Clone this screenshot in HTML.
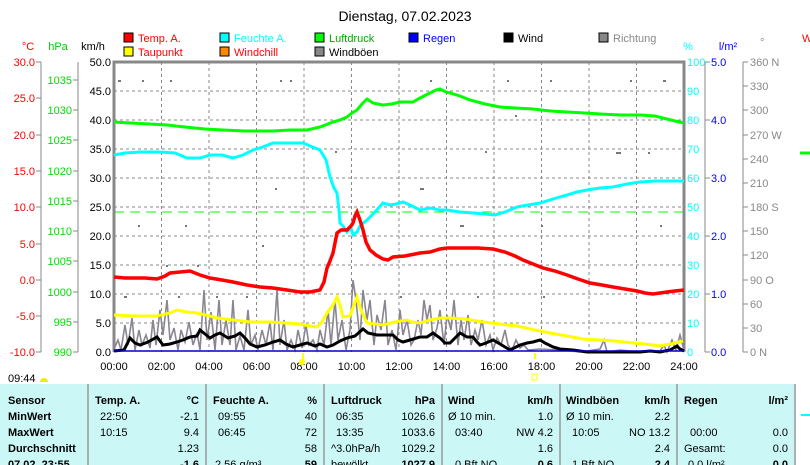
<!DOCTYPE html>
<html><head><meta charset="utf-8"><style>
body{margin:0;width:810px;height:465px;overflow:hidden;background:#fff;font-family:"Liberation Sans",sans-serif}
svg{position:absolute;left:0;top:0}
text{font-family:"Liberation Sans",sans-serif;font-size:11px}
</style></head><body>
<svg width="810" height="465" viewBox="0 0 810 465">
<text x="405" y="21" text-anchor="middle" font-size="14" style="font-size:14px">Dienstag, 07.02.2023</text>
<g font-size="11">
<rect x="124" y="33" width="9" height="9" fill="#f00" stroke="#000"/><text x="138" y="42" fill="#f00">Temp. A.</text>
<rect x="124" y="47" width="9" height="9" fill="#ff0" stroke="#000"/><text x="138" y="56" fill="#f00">Taupunkt</text>
<rect x="220" y="33" width="9" height="9" fill="#0ff" stroke="#000"/><text x="234" y="42" fill="#0ff">Feuchte A.</text>
<rect x="220" y="47" width="9" height="9" fill="#f80" stroke="#000"/><text x="234" y="56" fill="#f00">Windchill</text>
<rect x="315" y="33" width="9" height="9" fill="#0f0" stroke="#000"/><text x="329" y="42" fill="#0a0">Luftdruck</text>
<rect x="315" y="47" width="9" height="9" fill="#888" stroke="#000"/><text x="329" y="56">Windböen</text>
<rect x="409" y="33" width="9" height="9" fill="#00f" stroke="#000"/><text x="423" y="42" fill="#00f">Regen</text>
<rect x="504" y="33" width="9" height="9" fill="#000" stroke="#000"/><text x="518" y="42">Wind</text>
<rect x="599" y="33" width="9" height="9" fill="#888" stroke="#000"/><text x="613" y="42" fill="#888">Richtung</text>
<text x="802" y="42" fill="#f00">W</text>
</g>
<text x="28" y="50" text-anchor="middle" fill="#f00">°C</text>
<text x="58" y="50" text-anchor="middle" fill="#0c0">hPa</text>
<text x="93" y="50" text-anchor="middle">km/h</text>
<text x="688" y="50" text-anchor="middle" fill="#0ff">%</text>
<text x="728" y="50" text-anchor="middle" fill="#00f">l/m²</text>
<text x="760" y="46" fill="#888">°</text>
<g stroke="#888" stroke-dasharray="3,3" stroke-width="1">
<line x1="114" y1="91" x2="684" y2="91"/><line x1="114" y1="120" x2="684" y2="120"/><line x1="114" y1="149" x2="684" y2="149"/><line x1="114" y1="178" x2="684" y2="178"/><line x1="114" y1="207" x2="684" y2="207"/><line x1="114" y1="236" x2="684" y2="236"/><line x1="114" y1="265" x2="684" y2="265"/><line x1="114" y1="294" x2="684" y2="294"/><line x1="114" y1="323" x2="684" y2="323"/>
<line x1="161.5" y1="62" x2="161.5" y2="352"/><line x1="209" y1="62" x2="209" y2="352"/><line x1="256.5" y1="62" x2="256.5" y2="352"/><line x1="304" y1="62" x2="304" y2="352"/><line x1="351.5" y1="62" x2="351.5" y2="352"/><line x1="399" y1="62" x2="399" y2="352"/><line x1="446.5" y1="62" x2="446.5" y2="352"/><line x1="494" y1="62" x2="494" y2="352"/><line x1="541.5" y1="62" x2="541.5" y2="352"/><line x1="589" y1="62" x2="589" y2="352"/><line x1="636.5" y1="62" x2="636.5" y2="352"/>
</g>
<line x1="114" y1="212" x2="684" y2="212" stroke="#0f0" stroke-dasharray="10,6"/>
<path d="M114,352 V62 H684 V352" fill="none" stroke="#888" stroke-width="3"/>
<g stroke="#888" stroke-width="1" fill="none">
<line x1="41" y1="62" x2="41" y2="352"/><line x1="78" y1="62" x2="78" y2="352"/>
<line x1="705" y1="62" x2="705" y2="352"/><line x1="743" y1="62" x2="743" y2="352"/>
<path d="M36,62H41M36,98H41M36,135H41M36,171H41M36,207H41M36,244H41M36,280H41M36,316H41M36,352H41"/>
<path d="M73,80H78M73,110H78M73,140H78M73,171H78M73,201H78M73,231H78M73,261H78M73,292H78M73,322H78M73,352H78"/>
<path d="M705,62H710M705,120H710M705,178H710M705,236H710M705,294H710M705,352H710"/>
<path d="M743,62H748M743,86H748M743,110H748M743,135H748M743,159H748M743,183H748M743,207H748M743,231H748M743,255H748M743,280H748M743,304H748M743,328H748M743,352H748"/>
</g>
<g text-anchor="end" fill="#f00"><text x="35" y="66">30.0</text><text x="35" y="102">25.0</text><text x="35" y="139">20.0</text><text x="35" y="175">15.0</text><text x="35" y="211">10.0</text><text x="35" y="248">5.0</text><text x="35" y="284">0.0</text><text x="35" y="320">-5.0</text><text x="35" y="356">-10.0</text></g>
<g text-anchor="end" fill="#0d0"><text x="72" y="84">1035</text><text x="72" y="114">1030</text><text x="72" y="144">1025</text><text x="72" y="175">1020</text><text x="72" y="205">1015</text><text x="72" y="235">1010</text><text x="72" y="265">1005</text><text x="72" y="296">1000</text><text x="72" y="326">995</text><text x="72" y="356">990</text></g>
<g text-anchor="end"><text x="111" y="66">50.0</text><text x="111" y="95">45.0</text><text x="111" y="124">40.0</text><text x="111" y="153">35.0</text><text x="111" y="182">30.0</text><text x="111" y="211">25.0</text><text x="111" y="240">20.0</text><text x="111" y="269">15.0</text><text x="111" y="298">10.0</text><text x="111" y="327">5.0</text><text x="111" y="356">0.0</text></g>
<g fill="#0ff"><text x="687" y="66">100</text><text x="687" y="95">90</text><text x="687" y="124">80</text><text x="687" y="153">70</text><text x="687" y="182">60</text><text x="687" y="211">50</text><text x="687" y="240">40</text><text x="687" y="269">30</text><text x="687" y="298">20</text><text x="687" y="327">10</text><text x="687" y="356">0</text></g>
<g fill="#00f"><text x="711" y="66">5.0</text><text x="711" y="124">4.0</text><text x="711" y="182">3.0</text><text x="711" y="240">2.0</text><text x="711" y="298">1.0</text><text x="711" y="356">0.0</text></g>
<g fill="#888"><text x="750" y="66">360 N</text><text x="750" y="90">330</text><text x="750" y="114">300</text><text x="750" y="139">270 W</text><text x="750" y="163">240</text><text x="750" y="187">210</text><text x="750" y="211">180 S</text><text x="750" y="235">150</text><text x="750" y="259">120</text><text x="750" y="284">90  O</text><text x="750" y="308">60</text><text x="750" y="332">30</text><text x="750" y="356">0   N</text></g>
<line x1="800" y1="153" x2="810" y2="153" stroke="#0f0" stroke-width="3"/>
<g text-anchor="middle"><text x="114" y="370">00:00</text><text x="161.5" y="370">02:00</text><text x="209" y="370">04:00</text><text x="256.5" y="370">06:00</text><text x="304" y="370">08:00</text><text x="351.5" y="370">10:00</text><text x="399" y="370">12:00</text><text x="446.5" y="370">14:00</text><text x="494" y="370">16:00</text><text x="541.5" y="370">18:00</text><text x="589" y="370">20:00</text><text x="636.5" y="370">22:00</text><text x="684" y="370">24:00</text></g>
<line x1="303" y1="353" x2="303" y2="360" stroke="#ff0" stroke-width="2"/>
<line x1="535" y1="353" x2="535" y2="359" stroke="#ff0" stroke-width="2"/>
<circle cx="302" cy="362" r="3" fill="#ff0"/>
<rect x="532" y="374" width="5" height="6" fill="none" stroke="#ff0"/>
<text x="8" y="382">09:44</text>
<path d="M40,382 a4,4 0 0 1 8,0 z" fill="#ee0"/>
<g fill="#777"><rect x="118" y="80" width="3" height="2"/><rect x="142" y="80" width="2" height="2"/><rect x="170" y="80" width="2" height="2"/><rect x="280" y="80" width="2" height="2"/><rect x="290" y="80" width="2" height="2"/><rect x="335" y="151" width="2" height="2"/><rect x="275" y="188" width="2" height="2"/><rect x="262" y="245" width="2" height="2"/><rect x="166" y="265" width="2" height="2"/><rect x="197" y="265" width="2" height="2"/><rect x="124" y="296" width="3" height="2"/><rect x="178" y="296" width="2" height="2"/><rect x="216" y="296" width="2" height="2"/><rect x="246" y="296" width="2" height="2"/><rect x="138" y="225" width="2" height="2"/><rect x="185" y="225" width="2" height="2"/><rect x="430" y="80" width="2" height="2"/><rect x="507" y="80" width="2" height="2"/><rect x="550" y="80" width="2" height="2"/><rect x="630" y="80" width="2" height="2"/><rect x="663" y="80" width="3" height="2"/><rect x="515" y="115" width="2" height="2"/><rect x="485" y="151" width="2" height="2"/><rect x="616" y="152" width="5" height="2"/><rect x="648" y="152" width="2" height="2"/><rect x="541" y="225" width="2" height="2"/><rect x="660" y="225" width="2" height="2"/><rect x="460" y="225" width="4" height="2"/><rect x="543" y="296" width="2" height="2"/><rect x="477" y="296" width="2" height="2"/><rect x="400" y="296" width="2" height="2"/><rect x="420" y="188" width="4" height="2"/></g>
<polyline fill="none" stroke="#8a8590" stroke-width="1.6" points="114,349 118,340 121,350 125,325 128,345 132,318 135,350 139,330 142,345 146,335 150,348 153,320 156,345 160,310 163,335 167,300 170,340 174,328 178,350 181,330 185,342 189,322 193,345 197,333 200,350 204,290 207,340 211,312 215,350 219,300 222,345 226,320 230,345 233,300 236,350 240,336 244,350 248,310 251,345 255,335 258,350 262,330 266,345 270,322 273,350 277,290 280,345 284,320 287,350 291,340 295,350 298,330 302,348 306,325 309,345 313,340 317,350 320,330 324,345 328,310 331,345 335,300 338,340 342,320 346,350 350,330 353,280 356,300 360,340 363,290 367,320 370,300 374,345 377,315 381,330 385,300 388,345 392,330 396,350 400,310 403,335 407,320 411,345 414,340 418,320 421,335 424,300 427,320 430,305 433,340 437,328 440,310 444,345 447,315 451,330 454,300 458,345 461,320 464,340 468,315 471,345 475,330 478,340 482,320 486,345 490,335 493,350 497,338 501,345 505,330 508,345 512,350 516,340 520,348 524,345 528,350 540,349 560,350 580,352 600,349 604,340 607,352 620,350 640,352 660,351 664,345 667,352 672,340 676,350 680,335 684,350"/>
<polyline fill="none" stroke="#000" stroke-width="3" points="114,351 124,350 130,338 135,343 140,345 148,342 157,337 163,345 170,344 177,342 183,340 190,337 197,336 200,330 205,334 210,338 215,335 220,333 228,338 235,336 240,333 245,338 250,344 257,347 265,345 273,342 280,340 286,344 293,347 300,345 307,343 315,346 320,344 327,347 333,345 340,341 347,338 355,336 363,329 368,333 377,335 385,335 393,335 398,340 403,342 410,340 420,337 427,337 433,333 440,338 445,343 450,343 456,337 460,333 467,337 473,337 477,342 480,345 486,343 493,340 500,344 505,347 510,350 520,345 527,343 533,342 540,340 545,343 553,347 560,349 573,350 587,352 640,352 650,351 660,352 670,350 677,346 680,349 684,351"/>
<polyline fill="none" stroke="#ff0" stroke-width="3" points="114,315 135,316 157,316 170,313 177,310 187,312 197,313 210,316 217,318 233,320 250,322 270,322 287,323 300,324 310,326 317,327 322,322 327,313 333,305 337,297 340,305 343,317 350,316 354,305 357,297 361,310 367,323 375,324 383,325 395,322 407,320 412,322 420,323 430,320 440,318 450,318 465,319 483,322 500,324 517,326 535,330 550,333 567,336 583,339 600,340 615,341 633,343 645,344 660,346 670,344 683,341"/>
<polyline fill="none" stroke="#0f0" stroke-width="3" points="114,122 130,123 150,124 167,125 185,127 205,129 223,130 245,131 260,131 273,131 290,130 307,130 320,127 333,122 340,120 347,117 352,113 357,110 362,104 367,99 373,103 383,105 392,104 400,102 413,102 420,98 430,93 436,90 440,89 446,92 450,93 460,96 470,100 485,104 500,107 515,108 533,109 550,111 567,112 585,113 600,114 620,115 640,115 655,116 667,119 675,121 684,123"/>
<polyline fill="none" stroke="#0ff" stroke-width="3" points="114,155 125,153 140,152 160,152 175,153 187,158 200,158 210,155 222,155 233,158 243,155 253,150 263,147 273,143 290,143 303,143 310,146 320,150 326,160 330,177 334,188 337,193 339,210 340,223 343,226 347,232 351,228 353,235 357,232 360,226 367,220 375,212 383,203 390,205 396,204 403,202 410,205 420,210 430,208 440,210 447,210 460,212 473,213 485,214 495,215 505,212 517,207 528,205 540,203 553,199 567,195 577,192 587,190 600,188 613,187 627,184 640,182 655,181 670,181 684,181"/>
<polyline fill="none" stroke="#f00" stroke-width="3.5" points="114,277 125,278 133,278 145,278 157,279 165,276 170,273 180,272 190,271 200,275 210,278 222,280 233,282 247,285 260,287 273,288 287,290 300,292 310,292 320,290 324,282 327,268 330,261 333,253 335,243 337,233 341,230 347,230 351,226 353,223 355,216 357,212 360,220 363,230 366,242 370,250 376,255 383,259 388,260 393,257 405,256 420,253 430,252 440,249 447,248 455,248 463,248 478,248 493,249 505,252 515,256 523,260 533,264 543,268 555,271 567,275 578,279 590,283 602,285 613,287 625,289 637,291 645,293 653,294 660,293 667,292 675,291 684,290"/>
<line x1="114" y1="351" x2="684" y2="351" stroke="#00c" stroke-width="1.5"/>
<rect x="0" y="384" width="795" height="81" fill="#ccf7f7"/>
<g stroke="#999" stroke-width="1.5"><line x1="88" y1="384" x2="88" y2="465"/><line x1="206" y1="384" x2="206" y2="465"/><line x1="324" y1="384" x2="324" y2="465"/><line x1="442" y1="384" x2="442" y2="465"/><line x1="560" y1="384" x2="560" y2="465"/><line x1="677" y1="384" x2="677" y2="465"/><line x1="795" y1="384" x2="795" y2="465"/></g>
<line x1="801" y1="415" x2="810" y2="415" stroke="#0ff" stroke-width="2"/>
<g font-weight="bold" style="font-weight:bold">
<text x="8" y="404">Sensor</text><text x="8" y="420">MinWert</text><text x="8" y="436">MaxWert</text><text x="8" y="452">Durchschnitt</text><text x="8" y="468">07.02. 23:55</text>
<text x="95" y="404">Temp. A.</text><text x="199" y="404" text-anchor="end">°C</text>
<text x="213" y="404">Feuchte A.</text><text x="317" y="404" text-anchor="end">%</text>
<text x="331" y="404">Luftdruck</text><text x="435" y="404" text-anchor="end">hPa</text>
<text x="448" y="404">Wind</text><text x="553" y="404" text-anchor="end">km/h</text>
<text x="566" y="404">Windböen</text><text x="670" y="404" text-anchor="end">km/h</text>
<text x="684" y="404">Regen</text><text x="788" y="404" text-anchor="end">l/m²</text>
<text x="199" y="468" text-anchor="end">-1.6</text><text x="317" y="468" text-anchor="end">59</text><text x="435" y="468" text-anchor="end">1027.9</text><text x="553" y="468" text-anchor="end">0.6</text><text x="670" y="468" text-anchor="end">2.4</text><text x="788" y="468" text-anchor="end">0.0</text>
</g>
<g>
<text x="100" y="420">22:50</text><text x="199" y="420" text-anchor="end">-2.1</text>
<text x="100" y="436">10:15</text><text x="199" y="436" text-anchor="end">9.4</text>
<text x="199" y="452" text-anchor="end">1.23</text>
<text x="218" y="420">09:55</text><text x="317" y="420" text-anchor="end">40</text>
<text x="218" y="436">06:45</text><text x="317" y="436" text-anchor="end">72</text>
<text x="317" y="452" text-anchor="end">58</text><text x="215" y="468">2.56 g/m³</text>
<text x="336" y="420">06:35</text><text x="435" y="420" text-anchor="end">1026.6</text>
<text x="336" y="436">13:35</text><text x="435" y="436" text-anchor="end">1033.6</text>
<text x="331" y="452">^3.0hPa/h</text><text x="435" y="452" text-anchor="end">1029.2</text><text x="331" y="468">bewölkt</text>
<text x="448" y="420">Ø 10 min.</text><text x="553" y="420" text-anchor="end">1.0</text>
<text x="455" y="436">03:40</text><text x="553" y="436" text-anchor="end">NW 4.2</text>
<text x="553" y="452" text-anchor="end">1.6</text><text x="455" y="468">0 Bft NO</text>
<text x="566" y="420">Ø 10 min.</text><text x="670" y="420" text-anchor="end">2.2</text>
<text x="572" y="436">10:05</text><text x="670" y="436" text-anchor="end">NO 13.2</text>
<text x="670" y="452" text-anchor="end">2.4</text><text x="572" y="468">1 Bft NO</text>
<text x="690" y="436">00:00</text><text x="788" y="436" text-anchor="end">0.0</text>
<text x="684" y="452">Gesamt:</text><text x="788" y="452" text-anchor="end">0.0</text><text x="688" y="468">0.0 l/m²</text>
</g>
</svg>
</body></html>
